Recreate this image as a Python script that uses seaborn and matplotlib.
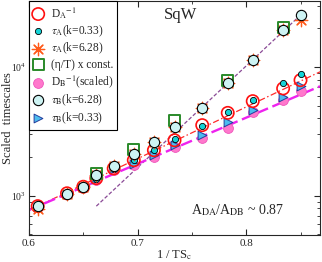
import matplotlib
matplotlib.use("Agg")
import matplotlib.pyplot as plt
import seaborn as sns
import numpy as np
import pandas as pd

# ---- data ----
x_all = [0.608, 0.635, 0.650, 0.662, 0.678, 0.6965, 0.715, 0.734, 0.7595, 0.783, 0.806, 0.834, 0.850]
DA_inv = [830, 1045, 1175, 1370, 1630, 1890, 2260, 2700, 3540, 4410, 5440, 6830, 7920]
tauA_033 = [825, 1040, 1170, 1360, 1620, 1890, 2260, 2750, 3480, 4490, 5540, 7550, 8820]
tauA_628 = [790, 1040, 1170, 1440, 1700, 2130, 2620, 3430, 4770, 7470, 11300, 19400, 23300]
eta_x = [0.662, 0.6965, 0.734, 0.783, 0.834]
eta_T = [1500, 2290, 3870, 7900, 20500]
DB_scaled = [815, 1030, 1160, 1330, 1580, 1740, 2000, 2400, 2800, 3390, 4490, 5540, 6540]
tauB_628 = [829, 1040, 1171, 1444, 1697, 2128, 2623, 3431, 4772, 7470, 11320, 19400, 25400]
tauB_033 = [820, 1040, 1170, 1340, 1600, 1780, 2070, 2470, 2960, 3750, 4630, 5810, 7110]

# fit lines (endpoints)
fitB_x = [0.662, 0.850]
fitB_y = [830, 25400]
fitA_x = [0.600, 0.868]
fitA_y = [770, 9200]
fitDB_x = [0.600, 0.868]
fitDB_y = [775, 7100]

x_ticks = [0.6, 0.7, 0.8]

sns.set_style("ticks")
plt.rcParams["font.family"] = ["Liberation Serif", "DejaVu Serif"]
plt.rcParams["mathtext.fontset"] = "stix"

fig = plt.figure(figsize=(3.22, 2.62), dpi=100)
ax = fig.add_axes([0.09, 0.103, 0.904, 0.892])

# fit lines
sns.lineplot(x=fitB_x, y=fitB_y, ax=ax, color="#8a4a96", lw=0.9,
             linestyle=(0, (3, 1.6)), zorder=1)
sns.lineplot(x=fitA_x, y=fitA_y, ax=ax, color="#ff2a2a", lw=0.9,
             linestyle=(0, (5, 2, 1.2, 2)), zorder=1)
sns.lineplot(x=fitDB_x, y=fitDB_y, ax=ax, color="#ee22ee", lw=1.7,
             linestyle=(0, (5, 2)), zorder=1)

h = {}
h["db"] = sns.scatterplot(x=x_all, y=DB_scaled, ax=ax, marker="o", s=50,
                          color="#ff78cc", edgecolor="#ee55bb", linewidth=0.6,
                          zorder=2, label="db").collections[-1]
h["tb033"] = sns.scatterplot(x=x_all, y=tauB_033, ax=ax, marker=">", s=40,
                             color="#4cbcef", edgecolor="#243c9c", linewidth=0.7,
                             zorder=3, label="tb033").collections[-1]
h["da"] = sns.scatterplot(x=x_all, y=DA_inv, ax=ax, marker="o", s=78,
                          facecolor="none", edgecolor="#ff1010", linewidth=1.2,
                          zorder=4, label="da").collections[-1]
h["ta033"] = sns.scatterplot(x=x_all, y=tauA_033, ax=ax, marker="o", s=20,
                             color="#14d4d8", edgecolor="black", linewidth=0.6,
                             zorder=5, label="ta033").collections[-1]
h["ta628"] = sns.scatterplot(x=x_all, y=tauA_628, ax=ax, marker=(8, 2, 0), s=80,
                             color="#ff5a1a", linewidth=0.9,
                             zorder=5, label="ta628").collections[-1]
h["eta"] = sns.scatterplot(x=eta_x, y=eta_T, ax=ax, marker="s", s=62,
                           facecolor="none", edgecolor="#2a8a2a", linewidth=1.4,
                           zorder=6, label="eta").collections[-1]
h["tb628"] = sns.scatterplot(x=x_all, y=tauB_628, ax=ax, marker="o", s=55,
                             color="#cdf3f3", edgecolor="black", linewidth=0.8,
                             zorder=7, label="tb628").collections[-1]

ax.set_yscale("log")
ax.set_xlim(0.6, 0.868)
ax.set_ylim(495, 32500)
ax.set_xticks(x_ticks)
ax.set_xticklabels([f"{t:.1f}" for t in x_ticks])
ax.set_xticks([0.65, 0.75, 0.85], minor=True)
ax.tick_params(which="both", direction="in", top=True, right=True, labelsize=8)
ax.tick_params(which="major", length=4, width=0.8)
ax.tick_params(which="minor", length=2.5, width=0.6)
ax.tick_params(axis="y", labelsize=7, pad=2)
ax.tick_params(axis="x", pad=3)
for sp in ax.spines.values():
    sp.set_linewidth(0.8)

ax.set_xlabel("1 / TS$_{\\rm c}$", fontsize=9, labelpad=0)
ax.set_ylabel("Scaled  timescales", fontsize=9)
ax.yaxis.set_label_coords(-0.052, 0.5)

ax.text(0.462, 0.94, "SqW", transform=ax.transAxes, fontsize=12, ha="left", va="center")
ax.text(0.555, 0.105, "A$_{\\rm DA}$/A$_{\\rm DB}$ ~ 0.87", transform=ax.transAxes,
        fontsize=10, ha="left", va="center")

order = ["da", "ta033", "ta628", "eta", "db", "tb628", "tb033"]
labels = ["D$_{\\rm A}$$^{-1}$", "$\\tau_{\\rm A}$(k=0.33)", "$\\tau_{\\rm A}$(k=6.28)",
          "(\u03b7/T) x const.", "D$_{\\rm B}$$^{-1}$(scaled)", "$\\tau_{\\rm B}$(k=6.28)",
          "$\\tau_{\\rm B}$(k=0.33)"]
leg = ax.legend([h[k] for k in order], labels, loc="upper left", bbox_to_anchor=(0.0, 1.0),
                borderaxespad=0.0, fontsize=8.3, frameon=True, fancybox=False,
                edgecolor="black", framealpha=1, handlelength=1.0, handletextpad=0.6,
                labelspacing=0.22, borderpad=0.3, scatterpoints=1)
leg.get_frame().set_linewidth(0.8)

fig.savefig("out.png", dpi=100)
